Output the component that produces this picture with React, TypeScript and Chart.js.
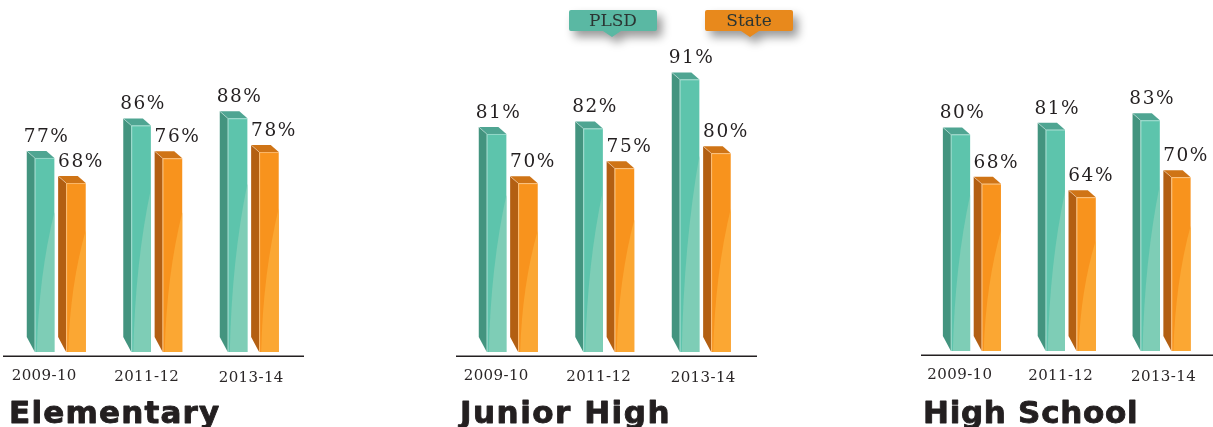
import React, { useEffect, useRef } from "react";
import { Chart, registerables } from "chart.js";

Chart.register(...registerables);

const categories = ["2009-10", "2011-12", "2013-14"];
const seriesNames = ["PLSD", "State"];
const elementaryPLSD = [77, 86, 88];
const elementaryState = [68, 76, 78];
const juniorPLSD = [81, 82, 91];
const juniorState = [70, 75, 80];
const highPLSD = [80, 81, 83];
const highState = [68, 64, 70];

const SERIF = '"DejaVu Serif", serif';
const SANS = '"DejaVu Sans", sans-serif';
const W = 1213;
const H = 427;

const FACES = [
  { front: "#5DC4AC", wedge: "#7ECDB6", side: "#43947F", top: "#4FA592", wedgeMax: 205, dx: 2 },
  { front: "#F8931D", wedge: "#FBA733", side: "#B35F12", top: "#CF7416", wedgeMax: 145, dx: 5 },
];

type Panel = {
  title: string; plsd: number[]; state: number[];
  left: number; right: number; base: number; lineL: number; lineR: number; titleX: number; titleSpacing: number;
  axisA: [number, number]; axisB: [number, number]; legend?: boolean;
};

const panels: Panel[] = [
  { title: "Elementary", plsd: elementaryPLSD, state: elementaryState, left: 12, right: 301.5, base: 352, lineL: 3, lineR: 304, titleX: 9, titleSpacing: 1.2, axisA: [23.1, 115.3], axisB: [13.5, 120.6] },
  { title: "Junior High", plsd: juniorPLSD, state: juniorState, left: 464, right: 753.5, base: 352, lineL: 456, lineR: 757, titleX: 460, titleSpacing: 1.5, axisA: [41, 101.9], axisB: [13.7, 124.4], legend: true },
  { title: "High School", plsd: highPLSD, state: highState, left: 928.5, right: 1219.5, base: 351, lineL: 921, lineR: 1213, titleX: 923, titleSpacing: 0.7, axisA: [33.8, 104.4], axisB: [18, 117] },
];

const tickShift = [-16, -10, -2];
const tickDrop = [0, 1, 2];

function poly(ctx: CanvasRenderingContext2D, pts: number[][], fill: string) {
  ctx.beginPath();
  pts.forEach((p, i) => (i ? ctx.lineTo(p[0], p[1]) : ctx.moveTo(p[0], p[1])));
  ctx.closePath();
  ctx.fillStyle = fill;
  ctx.fill();
}

function callout(ctx: CanvasRenderingContext2D, x: number, y: number, w: number, h: number, tip: number, color: string, label: string) {
  ctx.save();
  ctx.shadowColor = "rgba(0,0,0,0.4)";
  ctx.shadowBlur = 10;
  ctx.shadowOffsetX = 5;
  ctx.shadowOffsetY = 6;
  ctx.beginPath();
  ctx.roundRect(x, y, w, h, 2);
  ctx.moveTo(tip - 9, y + h);
  ctx.lineTo(tip, y + h + 6);
  ctx.lineTo(tip + 9, y + h);
  ctx.closePath();
  ctx.fillStyle = color;
  ctx.fill();
  ctx.restore();
  ctx.fillStyle = "#2b3533";
  ctx.font = `17px ${SERIF}`;
  ctx.textAlign = "center";
  ctx.textBaseline = "middle";
  ctx.fillText(label, x + w / 2, y + h / 2 + 1);
}

const bars3d = {
  id: "bars3d",
  beforeDatasetDraw(chart: any, args: any) {
    const ctx = chart.ctx as CanvasRenderingContext2D;
    const f = FACES[args.index];
    const base = chart.chartArea.bottom;
    chart.getDatasetMeta(args.index).data.forEach((bar: any) => {
      const l = bar.x - bar.width / 2;
      const r = bar.x + bar.width / 2;
      poly(ctx, [[l - 8, bar.y - 7], [l, bar.y], [l, base], [l - 8, base - 15]], f.side);
      poly(ctx, [[l - 8, bar.y - 7], [r - 8, bar.y - 7], [r, bar.y], [l, bar.y]], f.top);
    });
  },
  afterDatasetDraw(chart: any, args: any) {
    const ctx = chart.ctx as CanvasRenderingContext2D;
    const f = FACES[args.index];
    const base = chart.chartArea.bottom;
    const values = chart.data.datasets[args.index].data;
    chart.getDatasetMeta(args.index).data.forEach((bar: any, i: number) => {
      const l = bar.x - bar.width / 2;
      const r = bar.x + bar.width / 2;
      const reach = base - Math.min(f.wedgeMax, (base - bar.y) * 0.72);
      ctx.beginPath();
      ctx.moveTo(l + 2, base);
      ctx.quadraticCurveTo(l + 4, base - (base - reach) * 0.55, r, reach);
      ctx.lineTo(r, base);
      ctx.closePath();
      ctx.fillStyle = f.wedge;
      ctx.fill();

      ctx.strokeStyle = "rgba(255,255,255,0.35)";
      ctx.lineWidth = 1;
      ctx.beginPath();
      ctx.moveTo(l + 0.5, base);
      ctx.lineTo(l + 0.5, bar.y + 0.5);
      ctx.lineTo(r, bar.y + 0.5);
      ctx.moveTo(l - 8, bar.y - 7);
      ctx.lineTo(l, bar.y);
      ctx.stroke();

      ctx.fillStyle = "#231f20";
      ctx.font = `18.5px ${SERIF}`;
      (ctx as any).letterSpacing = "1.5px";
      ctx.textAlign = "center";
      ctx.textBaseline = "middle";
      ctx.fillText(`${values[i]}%`, bar.x + f.dx, bar.y - 21);
      (ctx as any).letterSpacing = "0px";
    });
  },
  afterDraw(chart: any, _a: any, opts: any) {
    const ctx = chart.ctx as CanvasRenderingContext2D;
    const p: Panel = opts.panel;
    const s = chart.scales.x;
    ctx.save();
    ctx.fillStyle = "#231f20";
    ctx.fillRect(p.lineL, p.base + 3.5, p.lineR - p.lineL, 1.5);

    ctx.fillStyle = "#2a2627";
    ctx.font = `15px ${SERIF}`;
    (ctx as any).letterSpacing = "0.4px";
    ctx.textAlign = "center";
    ctx.textBaseline = "middle";
    categories.forEach((c, i) => {
      ctx.fillText(c, s.getPixelForValue(i) + tickShift[i], p.base + 24.5 + tickDrop[i]);
    });

    ctx.fillStyle = "#231f20";
    ctx.strokeStyle = "#231f20";
    ctx.lineWidth = 0.9;
    ctx.lineJoin = "round";
    ctx.font = `bold 31px ${SANS}`;
    (ctx as any).letterSpacing = `${p.titleSpacing}px`;
    ctx.textAlign = "left";
    ctx.textBaseline = "alphabetic";
    ctx.fillText(p.title, p.titleX, 423);
    ctx.strokeText(p.title, p.titleX, 423);
    (ctx as any).letterSpacing = "0px";

    if (p.legend) {
      callout(ctx, 569, 10, 88, 21, 612, "#5AB8A3", seriesNames[0]);
      callout(ctx, 705, 10, 88, 21, 750, "#E8891C", seriesNames[1]);
    }
    ctx.restore();
  },
};

function PanelChart({ panel }: { panel: Panel }) {
  const ref = useRef<HTMLCanvasElement>(null);
  useEffect(() => {
    const chart = new Chart(ref.current!, {
      type: "bar",
      data: {
        labels: categories,
        datasets: [
          { label: seriesNames[0], data: panel.plsd, yAxisID: "yA", backgroundColor: FACES[0].front },
          { label: seriesNames[1], data: panel.state, yAxisID: "yB", backgroundColor: FACES[1].front },
        ],
      },
      options: {
        responsive: false,
        animation: false,
        events: [],
        layout: { padding: { left: panel.left, right: W - panel.right, top: 20, bottom: H - panel.base } },
        datasets: { bar: { categoryPercentage: 0.65, barPercentage: 0.625 } },
        scales: {
          x: { display: false },
          yA: { display: false, min: panel.axisA[0], max: panel.axisA[1] },
          yB: { display: false, min: panel.axisB[0], max: panel.axisB[1] },
        },
        plugins: {
          legend: { display: false },
          tooltip: { enabled: false },
          bars3d: { panel },
        },
      } as any,
      plugins: [bars3d],
    });
    return () => chart.destroy();
  }, [panel]);
  return (
    <canvas
      ref={ref}
      width={W}
      height={H}
      style={{ position: "absolute", left: 0, top: 0, width: W, height: H, display: "block" }}
    />
  );
}

export default function App() {
  return (
    <div style={{ position: "absolute", left: 0, top: 0, width: W, height: H, overflow: "hidden", background: "#fff" }}>
      {panels.map((p) => (
        <PanelChart key={p.title} panel={p} />
      ))}
    </div>
  );
}
